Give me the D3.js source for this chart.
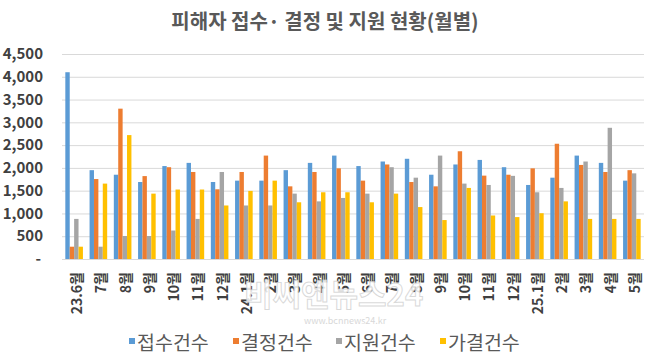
<html>
<script src='https://d3js.org/d3.v7.min.js'></script>
<style>
  body { margin: 0; background: #fff; }
  text { font-family: 'Noto Sans CJK KR', 'Noto Sans', sans-serif; }
</style>
<body onload='init()'>
<svg width=650 height=362></svg>
<script>
// months (x categories)
var months = ["23.6월","7월","8월","9월","10월","11월","12월","24.1월","2월","3월","4월","5월",
              "6월","7월","8월","9월","10월","11월","12월","25.1월","2월","3월","4월","5월"];
var seriesNames = ["접수건수","결정건수","지원건수","가결건수"];
var colors = ["#5B9BD5","#ED7D31","#A5A5A5","#FFC000"];

// values
var received = [4100,1950,1850,1690,2040,2110,1690,1720,1720,1950,2110,2270,2040,2140,2200,1850,2075,2175,2015,1625,1785,2270,2110,1720];
var decided  = [270,1755,3300,1820,2015,1910,1530,1910,2270,1595,1910,1990,1720,2075,1690,1595,2365,1830,1850,1990,2530,2065,1910,1950];
var supported= [880,270,505,505,625,880,1910,1175,1175,1435,1265,1340,1435,2015,1785,2270,1655,1625,1825,1465,1560,2140,2880,1880];
var approved = [270,1655,2720,1435,1525,1525,1175,1495,1720,1245,1465,1465,1245,1435,1140,855,1560,955,920,1005,1265,880,880,880];
var yTicks = [0,500,1000,1500,2000,2500,3000,3500,4000,4500];

function init() {
  var series = [received, decided, supported, approved];
  var svg = d3.select('svg');
  var left = 62, right = 644, top = 54, bottom = 259;

  var y = d3.scaleLinear().domain([0,4500]).range([bottom, top]);
  var x = d3.scaleBand().domain(d3.range(months.length)).range([left, right])
    .paddingInner(0.274).paddingOuter(0.137);
  var xs = d3.scaleBand().domain(d3.range(4)).range([0, x.bandwidth()]);

  // title
  svg.append('text').attr('x', 325).attr('y', 29).attr('text-anchor','middle')
    .attr('font-size', 20).attr('font-weight', 'bold').attr('fill', '#595959')
    .text('피해자 접수· 결정 및 지원 현황(월별)');

  // grid
  svg.append('g').selectAll('line').data(yTicks).enter().append('line')
    .attr('x1', left).attr('x2', right)
    .attr('y1', d => y(d) + 0.5).attr('y2', d => y(d) + 0.5)
    .attr('stroke', '#D9D9D9').attr('stroke-width', 1);

  // y labels
  svg.append('g').selectAll('text').data(yTicks).enter().append('text')
    .attr('x', d => d == 0 ? 41 : 43).attr('y', d => y(d)).attr('dy', '0.35em')
    .attr('text-anchor', 'end').attr('font-size', 15).attr('font-weight', 'bold')
    .attr('fill', '#404040')
    .text(d => d == 0 ? '-' : d3.format(',')(d));

  // bars
  svg.append('g').selectAll('g').data(months).enter().append('g')
    .attr('transform', (d,i) => 'translate(' + x(i) + ',0)')
    .selectAll('rect').data((d,i) => series.map((s,k) => ({k: k, v: s[i]}))).enter()
    .append('rect')
      .attr('x', d => xs(d.k)).attr('width', xs.bandwidth())
      .attr('y', d => y(d.v)).attr('height', d => bottom - y(d.v))
      .attr('fill', d => colors[d.k]);

  // x labels
  svg.append('g').selectAll('text').data(months).enter().append('text')
    .attr('transform', (d,i) => 'translate(' + (x(i) + x.bandwidth()/2 + 3) + ',272) rotate(-90)')
    .attr('text-anchor', 'end').attr('dy', '0.35em')
    .attr('font-size', 14).attr('font-weight', 'bold').attr('fill', '#404040')
    .text(d => d);

  // watermark
  svg.append('text').attr('x', 244).attr('y', 306)
    .attr('font-size', 31).attr('font-weight', 'bold')
    .attr('fill', '#fff').attr('fill-opacity', 0.85)
    .attr('stroke', '#c8c8c8').attr('stroke-width', 1).attr('stroke-opacity', 0.7)
    .text('비씨엔뉴스24');
  svg.append('text').attr('x', 304).attr('y', 324)
    .attr('font-size', 9).attr('fill', '#d8d8d8')
    .text('www.bcnnews24.kr');

  // legend
  var lx = [129, 233, 336, 440];
  var lg = svg.append('g').selectAll('g').data(seriesNames).enter().append('g')
    .attr('transform', (d,i) => 'translate(' + lx[i] + ',0)');
  lg.append('rect').attr('x', 0).attr('y', 338).attr('width', 6).attr('height', 6)
    .attr('fill', (d,i) => colors[i]);
  lg.append('text').attr('x', 8).attr('y', 350)
    .attr('font-size', 19.5).attr('fill', '#595959').text(d => d);
}
</script>
</body>
</html>
